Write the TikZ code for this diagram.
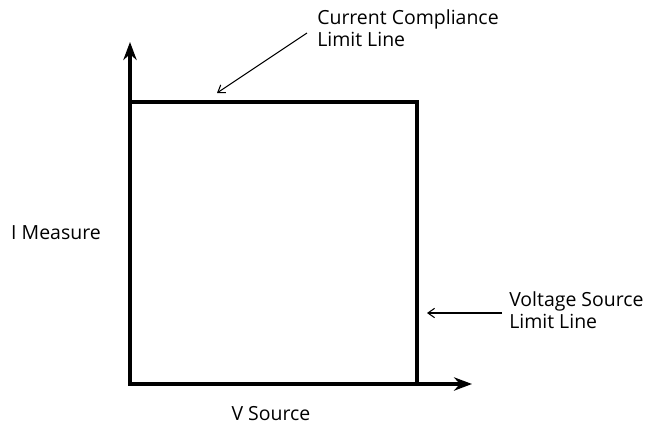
\documentclass[tikz,border=0pt]{standalone}
\usepackage{fontspec}
\setmainfont{Open Sans}
\usetikzlibrary{arrows.meta}
\tikzset{
  axis/.style={line width=2.8pt, {Stealth[length=13.5pt,width=10pt]}-{Stealth[length=13.5pt,width=10pt]}},
  limit line/.style={line width=2.6pt, line join=miter},
  note/.style={align=left, inner sep=0pt, anchor=north west},
  pointer/.style={line width=0.8pt, -{Straight Barb[length=5pt,width=7pt]}}
}
\begin{document}
\begin{tikzpicture}[x=0.75pt, y=-0.75pt, font=\fontsize{14.6}{17}\selectfont]
  \useasboundingbox (0,0) rectangle (651,429);

  % axes
  \coordinate (origin) at (130,384);
  \coordinate (i-tip) at (130,42);
  \coordinate (v-tip) at (472,384);
  \draw [axis] (i-tip) -- (origin) -- (v-tip);

  % limit lines
  \coordinate (corner-tl) at (130,102);
  \coordinate (corner-tr) at (417,102);
  \coordinate (corner-br) at (417,384);
  \draw [limit line] (corner-tl) -- (corner-tr) -- (corner-br);

  % axis labels
  \node (i-label) at (56,233) {I Measure};
  \node (v-label) at (271,414) {V Source};

  % notes
  \node [note] (current-note) at (317,9) {Current Compliance\\Limit Line};
  \node [note] (voltage-note) at (509,291) {Voltage Source\\Limit Line};

  \coordinate (current-from) at (307,33);
  \coordinate (current-to) at (217,93);
  \coordinate (voltage-from) at (502,313);
  \coordinate (voltage-to) at (427,313);
  \draw [pointer] (current-from) -- (current-to);
  \draw [pointer] (voltage-from) -- (voltage-to);
\end{tikzpicture}
\end{document}
